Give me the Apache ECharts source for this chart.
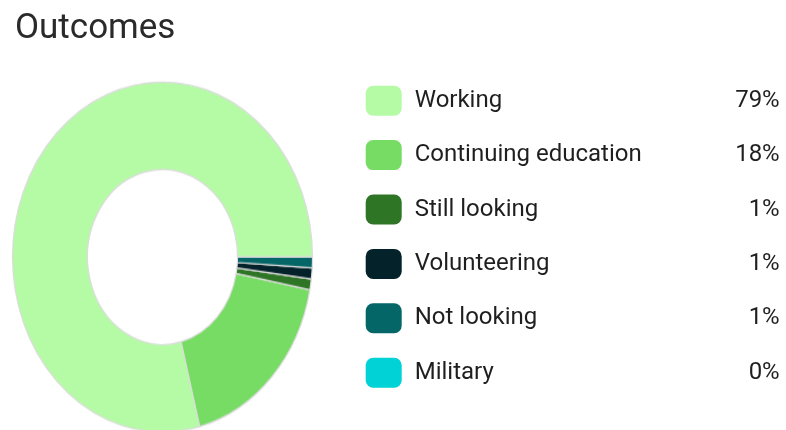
<!DOCTYPE html>
<html>
<head>
<meta charset="utf-8">
<script src="https://cdn.jsdelivr.net/npm/echarts@6/dist/echarts.min.js"></script>
<style>
  html, body { margin: 0; padding: 0; background: #ffffff; overflow: hidden; width: 786px; height: 430px; }
  #pie { position: absolute; left: 0; top: 0; width: 786px; height: 380px; transform: scaleY(1.1667); transform-origin: 0 0; }
  #txt { position: absolute; left: 0; top: 0; width: 786px; height: 430px; }
</style>
</head>
<body>
<div id="pie"></div>
<div id="txt"></div>
<script>
// ---- data ----
const titleText = 'Outcomes';
const categories = ['Working', 'Continuing education', 'Still looking', 'Volunteering', 'Not looking', 'Military'];
const values = [79, 18, 1, 1, 1, 0];
const colors = ['#b5fba6', '#77dc63', '#2e7526', '#03222a', '#046667', '#00d2d6'];

const pieData = categories.map((c, i) => ({ name: c, value: values[i], itemStyle: { color: colors[i] } }));
const fontFamily = 'Roboto, "Liberation Sans", sans-serif';

// ---- pie (stretched vertically like the reference) ----
const pieChart = echarts.init(document.getElementById('pie'), null, { renderer: 'canvas' });
pieChart.setOption({
  animation: false,
  backgroundColor: 'transparent',
  series: [{
    type: 'pie',
    center: [162.5, 220.3],
    radius: [75, 150],
    startAngle: 0,
    clockwise: false,
    avoidLabelOverlap: false,
    label: { show: false },
    labelLine: { show: false },
    itemStyle: { borderColor: '#dcdcdc', borderWidth: 1.2 },
    emphasis: { disabled: true },
    data: pieData
  }]
});

// ---- title + legend ----
const txtChart = echarts.init(document.getElementById('txt'), null, { renderer: 'canvas' });
txtChart.setOption({
  animation: false,
  backgroundColor: 'transparent',
  title: {
    text: titleText,
    left: 15,
    top: 12,
    padding: 0,
    textStyle: { fontFamily: fontFamily, fontSize: 35, fontWeight: 'normal', color: '#2a2a2a' }
  },
  legend: {
    orient: 'vertical',
    left: 365.7,
    top: 85.7,
    padding: 0,
    itemWidth: 36,
    itemHeight: 30,
    itemGap: 24.4,
    icon: 'roundRect',
    selectedMode: false,
    data: categories,
    formatter: function (name) {
      const v = values[categories.indexOf(name)];
      return '{n|' + name + '}{p|' + v + '%}';
    },
    textStyle: {
      padding: [0, 0, 0, 8],
      rich: {
        n: { width: 310, fontSize: 24, fontFamily: fontFamily, color: '#1f1f1f' },
        p: { width: 55, align: 'right', fontSize: 24, fontFamily: fontFamily, color: '#1f1f1f' }
      }
    }
  },
  series: [{
    type: 'pie',
    radius: [0, 0],
    center: [-100, -100],
    silent: true,
    label: { show: false },
    labelLine: { show: false },
    data: pieData
  }]
});
</script>
</body>
</html>
